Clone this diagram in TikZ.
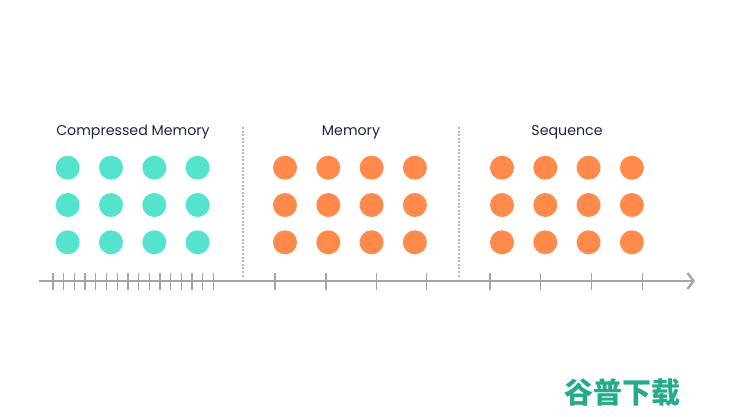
\documentclass[tikz,border=0pt]{standalone}
\usepackage{fontspec}
\setmainfont{Poppins}
\newfontfamily\cjk{Noto Sans CJK SC}
\usetikzlibrary{arrows.meta,positioning}
\definecolor{mint}{RGB}{84,228,206}
\definecolor{peach}{RGB}{255,138,76}
\definecolor{ink}{RGB}{30,38,60}
\definecolor{rule}{RGB}{165,165,165}
\definecolor{wmark}{RGB}{38,170,140}
\tikzset{
  token/.style={circle, fill=#1, minimum size=24pt, inner sep=0pt},
  head/.style={font=\fontsize{14.2}{16}\selectfont, text=ink},
  axis/.style={-{Straight Barb[length=6pt,width=16pt]}, line width=2.4pt, color=rule},
  tick/.style={line width=1.3pt, color=rule},
  divider/.style={line width=2pt, color=rule!80, dash pattern=on 2pt off 1.6pt},
}

\begin{document}
\begin{tikzpicture}[x=1pt,y=-1pt]
  \useasboundingbox (0,0) rectangle (740,416);
  % token grids
  \foreach \i in {0,...,3}
    \foreach \j in {0,...,2} {
      \node[token=mint]  (cm-\i-\j) at ({67.7+43.3*\i},{167.7+37.3*\j}) {};
      \node[token=peach] (mem-\i-\j) at ({285+43.3*\i},{167.7+37.3*\j}) {};
      \node[token=peach] (seq-\i-\j) at ({502+43.3*\i},{167.7+37.3*\j}) {};
    }
  % headings
  \node[head] (cmlabel) at (133,132) {Compressed Memory};
  \node[head] (memlabel) at (351,132) {Memory};
  \node[head] (seqlabel) at (567,132) {Sequence};
  % dividers
  \coordinate (d1top) at (242.7,127); \coordinate (d1bot) at (242.7,277);
  \coordinate (d2top) at (458.7,127); \coordinate (d2bot) at (458.7,277);
  \draw[divider] (d1top) -- (d1bot);
  \draw[divider] (d2top) -- (d2bot);
  % time axis
  \coordinate (t0) at (39,281);
  \coordinate (t1) at (695,281);
  \draw[axis] (t0) -- (t1);
  \foreach \k in {0,...,15}
    \draw[tick] ({53+10.7*\k},273) -- ++(0,17);
  \foreach \x in {275,326,376.7,426.7,490,540.7,591.7,642.3}
    \draw[tick] (\x,273) -- ++(0,17);
  % watermark
  \node[font=\cjk\bfseries\fontsize{29}{32}\selectfont, text=wmark] (wm) at (622,393) {谷普下载};
\end{tikzpicture}
\end{document}
